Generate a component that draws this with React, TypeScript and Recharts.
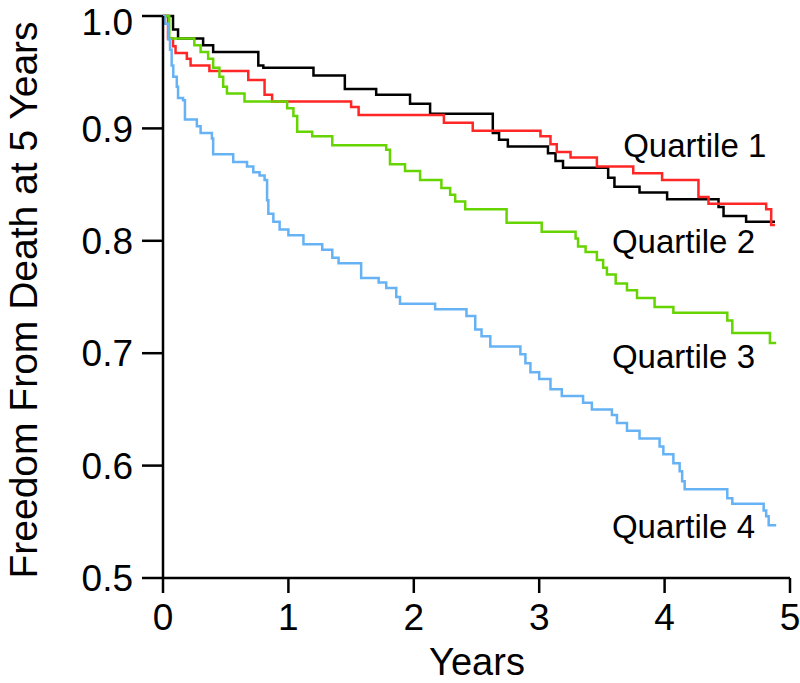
import { LineChart, Line, XAxis, YAxis, ReferenceDot, Label } from "recharts";

// Kaplan-Meier estimates (years, survival)
const q1Times = [0, 0.08, 0.12, 0.32, 0.4, 0.76, 0.8, 1.2, 1.45, 1.7, 1.97, 2.13, 2.63, 2.68, 2.75, 3.07, 3.13, 3.19, 3.55, 3.6, 3.8, 4.02, 4.43, 4.47, 4.65, 4.88];
const q1Surv = [1.0, 0.988, 0.98, 0.974, 0.968, 0.956, 0.954, 0.947, 0.935, 0.93, 0.922, 0.913, 0.896, 0.89, 0.884, 0.878, 0.871, 0.865, 0.856, 0.848, 0.843, 0.837, 0.83, 0.822, 0.817, 0.817];

const q2Times = [0, 0.04, 0.08, 0.1, 0.19, 0.22, 0.37, 0.68, 0.81, 0.87, 1.5, 1.56, 2.24, 2.47, 3.01, 3.09, 3.14, 3.25, 3.46, 3.75, 3.98, 4.27, 4.35, 4.81, 4.85, 4.88];
const q2Surv = [1.0, 0.98, 0.973, 0.967, 0.962, 0.956, 0.951, 0.943, 0.93, 0.924, 0.919, 0.912, 0.905, 0.898, 0.893, 0.886, 0.879, 0.874, 0.866, 0.86, 0.854, 0.839, 0.833, 0.828, 0.814, 0.814];

const q3Times = [0, 0.05, 0.25, 0.3, 0.36, 0.4, 0.45, 0.48, 0.51, 0.65, 0.99, 1.04, 1.07, 1.19, 1.35, 1.78, 1.81, 1.93, 2.05, 2.22, 2.29, 2.33, 2.41, 2.74, 3.02, 3.29, 3.31, 3.37, 3.46, 3.51, 3.54, 3.61, 3.7, 3.78, 3.92, 4.07, 4.5, 4.54, 4.84, 4.89];
const q3Surv = [1.0, 0.98, 0.974, 0.968, 0.962, 0.954, 0.946, 0.937, 0.931, 0.924, 0.918, 0.911, 0.897, 0.893, 0.885, 0.881, 0.868, 0.862, 0.854, 0.847, 0.841, 0.835, 0.828, 0.816, 0.808, 0.802, 0.795, 0.79, 0.783, 0.776, 0.77, 0.762, 0.756, 0.749, 0.741, 0.736, 0.729, 0.718, 0.709, 0.709];

const q4Times = [0, 0.016, 0.043, 0.056, 0.069, 0.082, 0.11, 0.12, 0.16, 0.175, 0.27, 0.3, 0.39, 0.4, 0.56, 0.67, 0.72, 0.77, 0.81, 0.83, 0.84, 0.88, 0.93, 1.0, 1.12, 1.27, 1.35, 1.4, 1.58, 1.72, 1.78, 1.86, 1.89, 2.17, 2.42, 2.49, 2.54, 2.61, 2.85, 2.89, 2.93, 3.0, 3.09, 3.18, 3.35, 3.42, 3.58, 3.62, 3.7, 3.8, 3.96, 3.99, 4.07, 4.12, 4.14, 4.16, 4.5, 4.54, 4.79, 4.81, 4.83, 4.89];
const q4Surv = [1.0, 0.993, 0.979, 0.97, 0.956, 0.946, 0.937, 0.927, 0.925, 0.908, 0.902, 0.896, 0.891, 0.877, 0.87, 0.866, 0.861, 0.858, 0.854, 0.836, 0.824, 0.817, 0.81, 0.805, 0.797, 0.792, 0.785, 0.78, 0.767, 0.763, 0.758, 0.75, 0.744, 0.739, 0.733, 0.721, 0.715, 0.706, 0.699, 0.691, 0.683, 0.677, 0.668, 0.662, 0.656, 0.65, 0.645, 0.638, 0.631, 0.624, 0.617, 0.61, 0.602, 0.595, 0.586, 0.579, 0.571, 0.566, 0.56, 0.555, 0.547, 0.547];

const xTicks = [0, 1, 2, 3, 4, 5];
const yTicks = [0.5, 0.6, 0.7, 0.8, 0.9, 1.0];

const seriesNames = ["Quartile 1", "Quartile 2", "Quartile 3", "Quartile 4"];
// where each quartile's name sits (years, survival)
const labelT = [3.67, 3.58, 3.58, 3.58];
const labelS = [0.885, 0.8, 0.697, 0.546];

const colors = ["#000000", "#ff2626", "#66d400", "#66b2f5"];

const toRows = (times: number[], surv: number[]) =>
  times.map((t, i) => ({ t, s: surv[i] }));

const series = [
  toRows(q1Times, q1Surv),
  toRows(q2Times, q2Surv),
  toRows(q3Times, q3Surv),
  toRows(q4Times, q4Surv),
];

const FONT = "'Liberation Sans', Arial, Helvetica, sans-serif";

const App = () => {
  return (
    <div
      style={{
        position: "absolute",
        left: 0,
        top: 0,
        width: 800,
        height: 683,
        background: "#fff",
        fontFamily: FONT,
      }}
    >
      <LineChart
        width={800}
        height={683}
        margin={{ top: 16, right: 10, left: 0, bottom: 0 }}
        style={{ fontFamily: FONT }}
      >
        <XAxis
          type="number"
          dataKey="t"
          domain={[0, 5]}
          ticks={xTicks}
          allowDuplicatedCategory={false}
          height={105}
          tickSize={15}
          tickMargin={11}
          axisLine={{ stroke: "#000", strokeWidth: 2.5 }}
          tickLine={{ stroke: "#000", strokeWidth: 2.5 }}
          tick={{ fill: "#000", fontSize: 37, fontFamily: FONT }}
        >
          <Label
            content={() => (
              <text
                x={477}
                y={675}
                textAnchor="middle"
                fontSize={38}
                fill="#000"
                fontFamily={FONT}
              >
                Years
              </text>
            )}
          />
        </XAxis>
        <YAxis
          type="number"
          domain={[0.5, 1.0]}
          ticks={yTicks}
          width={163}
          tickSize={21}
          tickMargin={9}
          tickFormatter={(v: number) => v.toFixed(1)}
          axisLine={{ stroke: "#000", strokeWidth: 2.5 }}
          tickLine={{ stroke: "#000", strokeWidth: 2.5 }}
          tick={{ fill: "#000", fontSize: 37, fontFamily: FONT }}
        >
          <Label
            content={() => (
              <text
                x={37}
                y={300}
                transform="rotate(-90 37 300)"
                textAnchor="middle"
                fontSize={39}
                fill="#000"
                fontFamily={FONT}
              >
                Freedom From Death at 5 Years
              </text>
            )}
          />
        </YAxis>
        {series.map((rows, i) => (
          <Line
            key={seriesNames[i]}
            data={rows}
            dataKey="s"
            name={seriesNames[i]}
            type="stepAfter"
            stroke={colors[i]}
            strokeWidth={2.5}
            dot={false}
            activeDot={false}
            isAnimationActive={false}
          />
        ))}
        {seriesNames.map((name, i) => (
          <ReferenceDot
            key={name}
            x={labelT[i]}
            y={labelS[i]}
            r={0}
            fill="none"
            stroke="none"
            label={{
              value: name,
              position: "right",
              offset: 0,
              fontSize: 33,
              fill: "#000",
              fontFamily: FONT,
            }}
          />
        ))}
      </LineChart>
    </div>
  );
};

export default App;
